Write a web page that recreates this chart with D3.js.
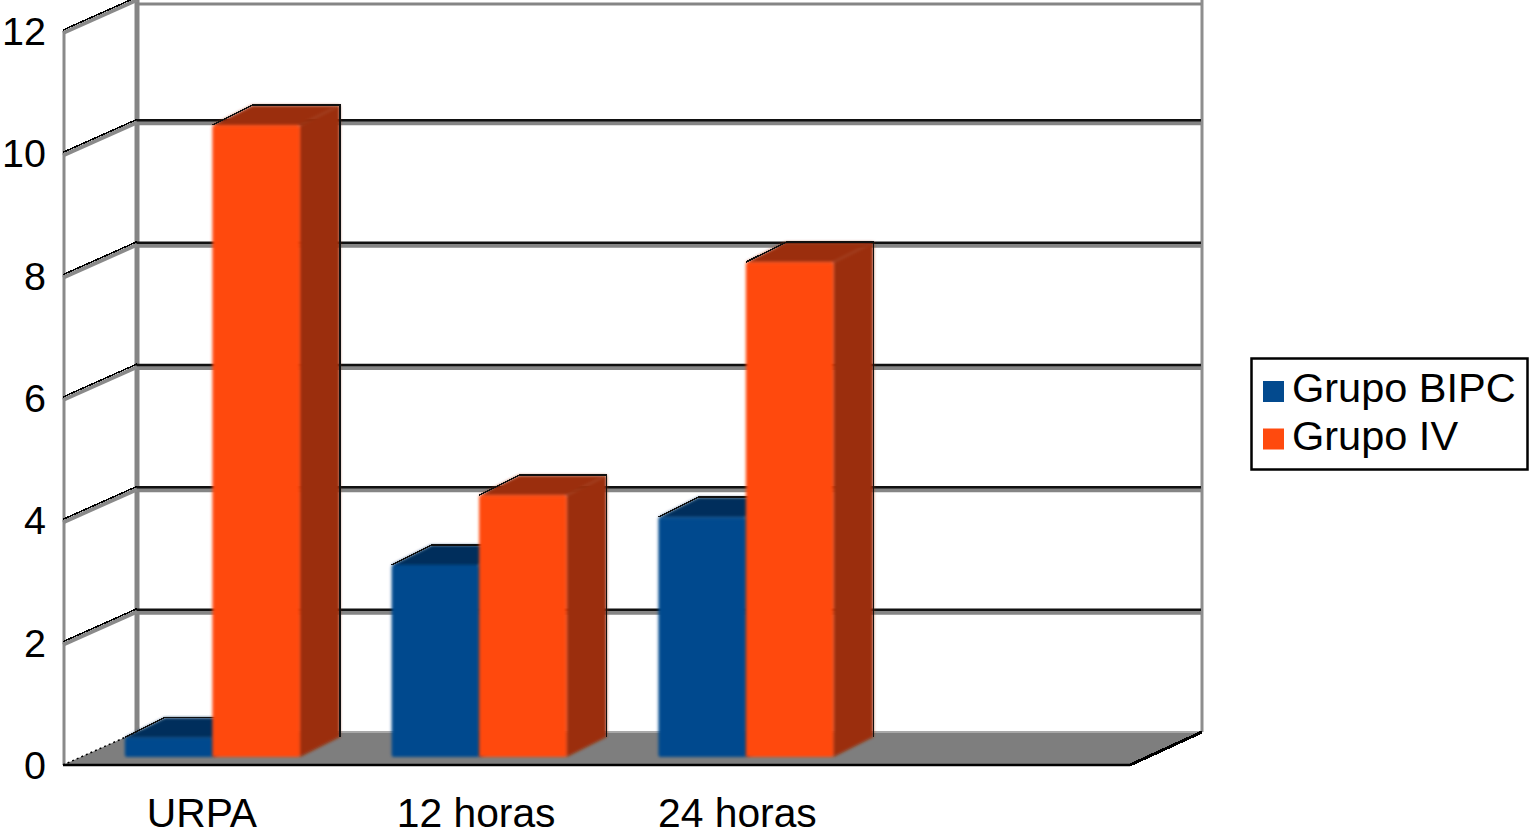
<!DOCTYPE html>
<html>
<head>
<meta charset="utf-8">
<script src="https://cdn.jsdelivr.net/npm/d3@7"></script>
<style>
    html, body { margin: 0; background: #fff; overflow: hidden; }
    svg { display: block; }
    text { font-family: "Liberation Sans", Arial, sans-serif; fill: #000; }
</style>
</head>
<body>
<svg width="1529" height="836"></svg>
<script>
const categories = ['URPA', '12 horas', '24 horas', '']
const seriesNames = ['Grupo BIPC', 'Grupo IV']
const grupoBipc = [0.32, 3.14, 3.92, null]
const grupoIv = [10.33, 4.28, 8.09, null]
const yTicks = [0, 2, 4, 6, 8, 10, 12]

const seriesColors = [
    { front: '#034a8e', top: '#022f5c', side: '#022f5c' },
    { front: '#ff4a0e', top: '#9b2d07', side: '#9b2d07' }
]

const svg = d3.select('svg')

// the floor runs 74px right and 33px up from the front edge to the back wall
const depth = { x: 74, y: 33 }
const x = d3.scaleBand().domain(categories).range([63, 1130])
const y = d3.scaleLinear().domain([0, 12]).range([765, 31])
const inner = d3.scaleBand().domain(seriesNames).range([0, 175])

const backY = value => Math.max(1.5, y(value) - depth.y)
const path = points => d3.line()(points) + 'Z'

// soft bar edges, the source picture is a blurry upscale
const defs = svg.append('defs')
defs.append('filter').attr('id', 'soft')
    .attr('x', '-5%').attr('y', '-5%').attr('width', '110%').attr('height', '110%')
    .append('feGaussianBlur').attr('stdDeviation', 1.5)

// walls
const wall = svg.append('g')
wall.append('line')
    .attr('x1', 64).attr('x2', 64).attr('y1', y(12)).attr('y2', y(0))
    .attr('stroke', '#8a8a8a').attr('stroke-width', 3)
wall.append('line')
    .attr('x1', 137).attr('x2', 137).attr('y1', 0).attr('y2', backY(0))
    .attr('stroke', '#858585').attr('stroke-width', 5)
wall.append('line')
    .attr('x1', 1202).attr('x2', 1202).attr('y1', 0).attr('y2', backY(0))
    .attr('stroke', '#8e8e8e').attr('stroke-width', 3)

// gridlines, back wall
const ticksUp = yTicks.filter(t => t > 0)
const grid = svg.append('g')
grid.selectAll('.grid-grey').data(ticksUp).join('line')
    .attr('x1', 135).attr('x2', 1201)
    .attr('y1', d => backY(d) + 2.5).attr('y2', d => backY(d) + 2.5)
    .attr('stroke', '#858585').attr('stroke-width', d => d === 12 ? 3 : 5)
grid.selectAll('.grid-black').data(ticksUp.filter(t => t < 12)).join('line')
    .attr('x1', 135).attr('x2', 1201)
    .attr('y1', d => backY(d)).attr('y2', d => backY(d))
    .attr('stroke', '#111').attr('stroke-width', 2.5)

// gridlines, side wall
grid.selectAll('.side-grey').data(ticksUp).join('line')
    .attr('x1', 63).attr('x2', 137)
    .attr('y1', d => y(d) + 2).attr('y2', d => y(d) - depth.y + 2)
    .attr('stroke', '#8a8a8a').attr('stroke-width', 4)
grid.selectAll('.side-black').data(ticksUp).join('line')
    .attr('x1', 63).attr('x2', 137)
    .attr('y1', d => y(d) - 1).attr('y2', d => y(d) - depth.y - 1)
    .attr('stroke', '#000').attr('stroke-width', 1.5)
    .attr('shape-rendering', 'crispEdges')

// floor
const floor = svg.append('g')
floor.append('path')
    .attr('d', path([[63, y(0)], [63 + depth.x, y(0) - depth.y], [1202, y(0) - depth.y], [1130, y(0)]]))
    .attr('fill', '#7e7e7e')
floor.append('line')
    .attr('x1', 137).attr('x2', 1202).attr('y1', y(0) - depth.y).attr('y2', y(0) - depth.y)
    .attr('stroke', '#a8a8a8').attr('stroke-width', 2)
floor.append('line')
    .attr('x1', 63).attr('x2', 1130).attr('y1', y(0)).attr('y2', y(0))
    .attr('stroke', '#000').attr('stroke-width', 2.5)
floor.append('line')
    .attr('x1', 1130).attr('x2', 1202).attr('y1', y(0)).attr('y2', y(0) - depth.y)
    .attr('stroke', '#000').attr('stroke-width', 3)
    .attr('shape-rendering', 'crispEdges')
floor.append('line')
    .attr('x1', 63).attr('x2', 137).attr('y1', y(0)).attr('y2', y(0) - depth.y)
    .attr('stroke', '#000').attr('stroke-width', 1.5)
    .attr('stroke-dasharray', '2 3')

// bars: front face sits 16px in and 8px up from the front floor edge
const barOffset = { x: 16, y: 8 }
const barDepth = { x: 40, y: 20 }
const barRows = []
seriesNames.forEach((name, s) => {
    const values = s === 0 ? grupoBipc : grupoIv
    values.forEach((value, c) => {
        if (value === null) return
        barRows.push({ name, s, category: categories[c], value })
    })
})

const groupLeft = (x.bandwidth() - 175) / 2
svg.append('g').selectAll('g').data(barRows).join('g')
    .each(function (d) {
        const g = d3.select(this)
        const left = x(d.category) + groupLeft + barOffset.x + inner(d.name)
        const right = left + inner.bandwidth()
        const bottom = y(0) - barOffset.y
        const top = y(d.value) - barOffset.y
        const colors = seriesColors[d.s]
        const faces = g.append('g').attr('filter', 'url(#soft)')

        faces.append('path')
            .attr('d', path([[left, top], [left + barDepth.x, top - barDepth.y], [right + barDepth.x, top - barDepth.y], [right, top]]))
            .attr('fill', colors.top)
        faces.append('path')
            .attr('d', path([[right, top], [right + barDepth.x, top - barDepth.y], [right + barDepth.x, bottom - barDepth.y], [right, bottom]]))
            .attr('fill', colors.side)
        faces.append('rect')
            .attr('x', left).attr('y', top)
            .attr('width', inner.bandwidth()).attr('height', bottom - top)
            .attr('rx', 2)
            .attr('fill', colors.front)

        // dark jagged outline along the top and right of the box
        g.append('path')
            .attr('d', d3.line()([[left, top], [left + barDepth.x, top - barDepth.y], [right + barDepth.x, top - barDepth.y], [right + barDepth.x, bottom - barDepth.y]]))
            .attr('fill', 'none')
            .attr('stroke', '#111').attr('stroke-width', 1.5)
            .attr('shape-rendering', 'crispEdges')
    })

// y labels
svg.append('g').selectAll('text').data(yTicks).join('text')
    .attr('x', 46)
    .attr('y', d => y(d) + 14)
    .attr('text-anchor', 'end')
    .attr('font-size', 39.5)
    .text(d => d)

// x labels, the source spaces them a little unevenly
const labelNudge = [5.5, 13, 7.5, 0]
svg.append('g').selectAll('text').data(categories).join('text')
    .attr('x', (d, i) => x(d) + x.bandwidth() / 2 + labelNudge[i])
    .attr('y', 827)
    .attr('text-anchor', 'middle')
    .attr('font-size', 40.8)
    .text(d => d)

// legend
const legend = svg.append('g')
legend.append('rect')
    .attr('x', 1251.5).attr('y', 358.5).attr('width', 276).attr('height', 111)
    .attr('fill', '#fff').attr('stroke', '#000').attr('stroke-width', 2.5)
const legendRows = legend.selectAll('g').data(seriesNames).join('g')
    .attr('transform', (d, i) => `translate(0, ${i * 47.5})`)
legendRows.append('rect')
    .attr('x', 1263).attr('y', 381).attr('width', 21).attr('height', 21)
    .attr('fill', (d, i) => seriesColors[i].front)
legendRows.append('text')
    .attr('x', 1292).attr('y', 402)
    .attr('font-size', 41.5)
    .text(d => d)
</script>
</body>
</html>
